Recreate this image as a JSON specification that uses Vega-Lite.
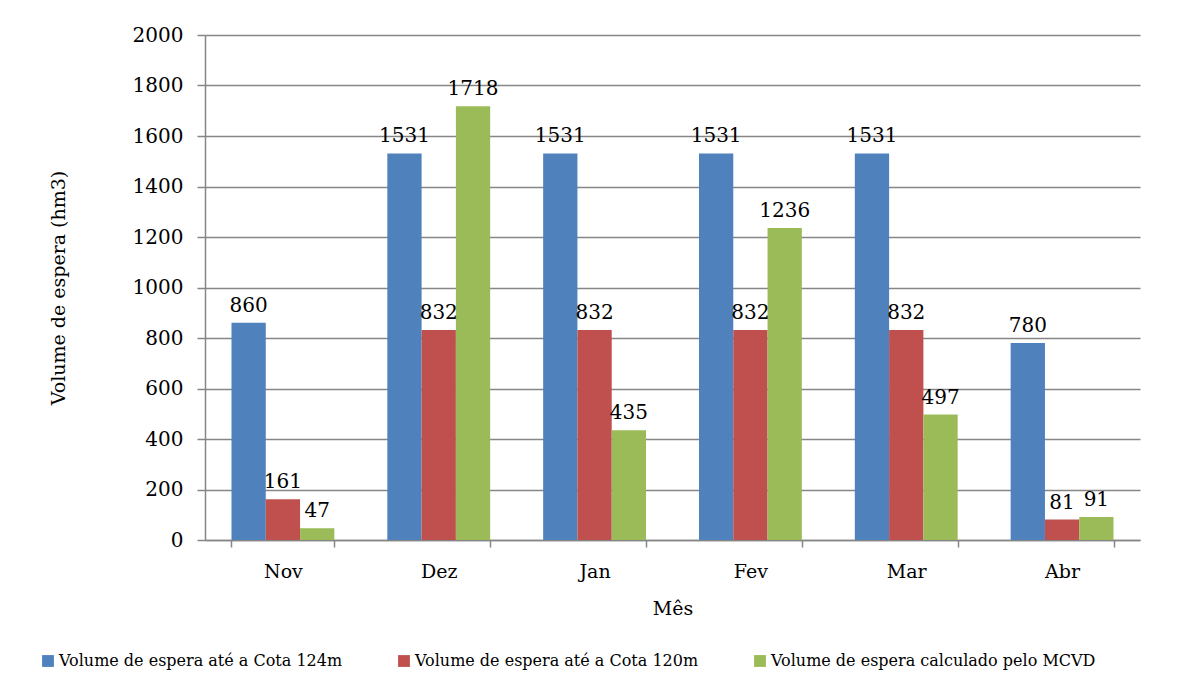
{
  "$schema": "https://vega.github.io/schema/vega-lite/v6.json",
  "width": 935,
  "height": 505,
  "autosize": {"type": "none"},
  "padding": {"left": 205, "top": 35, "right": 46, "bottom": 147},
  "background": "white",
  "config": {
    "font": "DejaVu Serif",
    "view": {"stroke": null}
  },
  "data": {
    "values": [
      {"mes": "Nov", "serie": "Volume de espera até a Cota 124m", "valor": 860},
      {"mes": "Nov", "serie": "Volume de espera até a Cota 120m", "valor": 161},
      {"mes": "Nov", "serie": "Volume de espera calculado pelo MCVD", "valor": 47},
      {"mes": "Dez", "serie": "Volume de espera até a Cota 124m", "valor": 1531},
      {"mes": "Dez", "serie": "Volume de espera até a Cota 120m", "valor": 832},
      {"mes": "Dez", "serie": "Volume de espera calculado pelo MCVD", "valor": 1718},
      {"mes": "Jan", "serie": "Volume de espera até a Cota 124m", "valor": 1531},
      {"mes": "Jan", "serie": "Volume de espera até a Cota 120m", "valor": 832},
      {"mes": "Jan", "serie": "Volume de espera calculado pelo MCVD", "valor": 435},
      {"mes": "Fev", "serie": "Volume de espera até a Cota 124m", "valor": 1531},
      {"mes": "Fev", "serie": "Volume de espera até a Cota 120m", "valor": 832},
      {"mes": "Fev", "serie": "Volume de espera calculado pelo MCVD", "valor": 1236},
      {"mes": "Mar", "serie": "Volume de espera até a Cota 124m", "valor": 1531},
      {"mes": "Mar", "serie": "Volume de espera até a Cota 120m", "valor": 832},
      {"mes": "Mar", "serie": "Volume de espera calculado pelo MCVD", "valor": 497},
      {"mes": "Abr", "serie": "Volume de espera até a Cota 124m", "valor": 780},
      {"mes": "Abr", "serie": "Volume de espera até a Cota 120m", "valor": 81},
      {"mes": "Abr", "serie": "Volume de espera calculado pelo MCVD", "valor": 91}
    ]
  },
  "encoding": {
    "x": {
      "field": "mes",
      "type": "nominal",
      "sort": ["Nov", "Dez", "Jan", "Fev", "Mar", "Abr"],
      "scale": {"paddingInner": 0.34, "paddingOuter": 0.17},
      "axis": {
        "title": "Mês",
        "titleFont": "DejaVu Serif",
        "titleFontSize": 19,
        "titleFontWeight": "normal",
        "titleColor": "#000000",
        "titlePadding": 18,
        "labelAngle": 0,
        "labelFont": "DejaVu Serif",
        "labelFontSize": 19,
        "labelColor": "#000000",
        "labelPadding": 15,
        "tickBand": "extent",
        "tickSize": 7,
        "tickColor": "#868686",
        "domainColor": "#868686",
        "domainWidth": 1.5,
        "tickWidth": 1.5,
        "grid": false
      }
    },
    "xOffset": {
      "field": "serie",
      "type": "nominal",
      "sort": ["Volume de espera até a Cota 124m", "Volume de espera até a Cota 120m", "Volume de espera calculado pelo MCVD"]
    },
    "y": {
      "field": "valor",
      "type": "quantitative",
      "scale": {"domain": [0, 2000], "nice": false},
      "axis": {
        "title": "Volume de espera (hm3)",
        "titleFont": "DejaVu Serif",
        "titleFontSize": 19,
        "titleFontWeight": "normal",
        "titleColor": "#000000",
        "titlePadding": 64,
        "format": "d",
        "values": [0, 200, 400, 600, 800, 1000, 1200, 1400, 1600, 1800, 2000],
        "labelFont": "DejaVu Serif",
        "labelFontSize": 20,
        "labelColor": "#000000",
        "labelPadding": 14,
        "tickSize": 8,
        "tickColor": "#868686",
        "domainColor": "#868686",
        "domainWidth": 1.5,
        "tickWidth": 1.5,
        "gridColor": "#868686",
        "gridWidth": 1.5
      }
    }
  },
  "layer": [
    {
      "mark": {"type": "bar"},
      "encoding": {
        "color": {
          "field": "serie",
          "type": "nominal",
          "sort": ["Volume de espera até a Cota 124m", "Volume de espera até a Cota 120m", "Volume de espera calculado pelo MCVD"],
          "scale": {
            "domain": ["Volume de espera até a Cota 124m", "Volume de espera até a Cota 120m", "Volume de espera calculado pelo MCVD"],
            "range": ["#4F81BD", "#C0504D", "#9BBB59"]
          },
          "legend": {
            "title": null,
            "orient": "none",
            "direction": "horizontal",
            "columns": 3,
            "gridAlign": "all",
            "legendX": -165,
            "legendY": 618,
            "symbolType": "square",
            "symbolSize": 140,
            "symbolStrokeWidth": 0,
            "labelFont": "DejaVu Serif",
            "labelFontSize": 16,
            "labelColor": "#000000",
            "labelLimit": 450,
            "labelOffset": 3,
            "columnPadding": 12
          }
        }
      }
    },
    {
      "mark": {"type": "text", "baseline": "bottom", "dy": -7, "font": "DejaVu Serif", "fontSize": 20, "color": "#000000"},
      "encoding": {
        "text": {"field": "valor", "type": "quantitative"}
      }
    }
  ]
}
